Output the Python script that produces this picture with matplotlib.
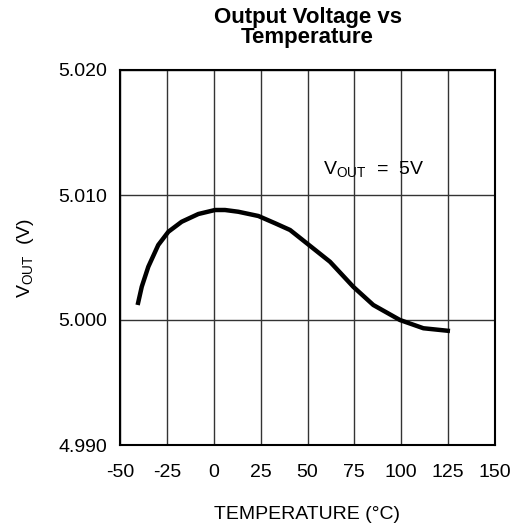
import matplotlib.pyplot as plt

plt.rcParams['font.family'] = ['Liberation Sans', 'DejaVu Sans']
plt.rcParams['mathtext.fontset'] = 'custom'
plt.rcParams['mathtext.rm'] = 'Liberation Sans'

# temperature (C) and output voltage (V)
temp = [-40.6, -38.4, -34.9, -29.6, -24.2, -17.1, -8.2, 0.7, 6.0, 13.1,
        23.8, 32.7, 40.7, 49.6, 62.0, 74.4, 85.1, 99.3, 111.8, 126.0]
vout = [5.0012, 5.00266, 5.00426, 5.0060, 5.00706, 5.00786, 5.00848, 5.0088, 5.0088, 5.00866,
        5.00832, 5.00774, 5.0072, 5.00614, 5.00466, 5.00266, 5.0012, 5.0000, 4.99934, 4.99912]

xticks = [-50, -25, 0, 25, 50, 75, 100, 125, 150]
yticks = [4.990, 5.000, 5.010, 5.020]

fig = plt.figure(figsize=(5.13, 5.27), dpi=100)
ax = fig.add_axes([120 / 513, 82 / 527, 375 / 513, 375 / 527])

ax.plot(temp, vout, color='black', linewidth=3.2, solid_capstyle='butt',
        solid_joinstyle='round')

ax.set_xlim(-50, 150)
ax.set_ylim(4.990, 5.020)
ax.set_xticks(xticks)
ax.set_yticks(yticks)
ax.set_xticklabels([str(t) for t in xticks])
ax.set_yticklabels(["%.3f" % v for v in yticks])
ax.tick_params(length=0, labelsize=14)
ax.tick_params(axis='x', pad=14)
ax.tick_params(axis='y', pad=9)
ax.grid(color='#333333', linewidth=1.0)
for s in ax.spines.values():
    s.set_linewidth(1.5)

ax.text(58.3, 5.0121, r"$\mathregular{V_{OUT}}$  =  5V", fontsize=14, ha='left', va='center')

ax.set_xlabel("TEMPERATURE (°C)", fontsize=14, labelpad=18)
ax.set_ylabel(r"$\mathregular{V_{OUT}}$  (V)", fontsize=14, labelpad=16)

fig.suptitle("Output Voltage vs\nTemperature", x=(120 + 375 / 2) / 513, y=1 - 7 / 527,
             va='top', fontsize=16, fontweight='bold', family='Liberation Sans',
             linespacing=0.92)

fig.savefig("out.png", dpi=100)
